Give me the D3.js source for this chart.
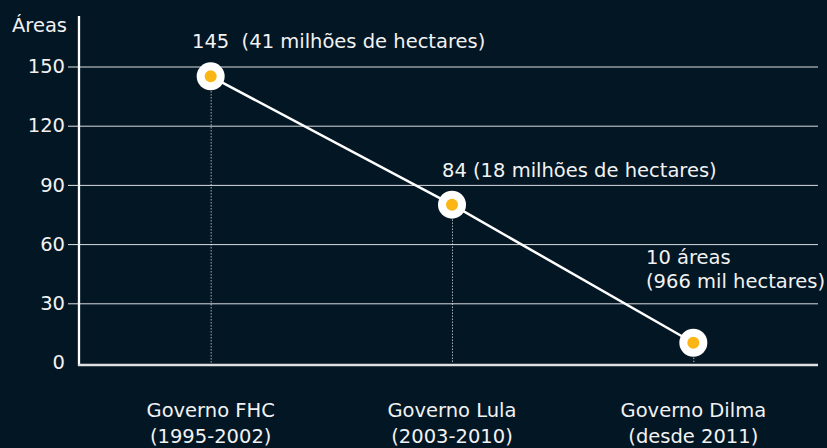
<!DOCTYPE html>
<html>
<head>
<meta charset="utf-8">
<style>
  body { margin: 0; background: #031624; }
  svg text { font-family: "DejaVu Sans", sans-serif; fill: #f2f2f2; white-space: pre; }
  .y-axis .domain { display: none; }
  .y-axis .tick line { stroke: #e6e6e6; stroke-width: 1px; }
  .y-axis .tick text { font-size: 19.5px; font-family: "DejaVu Sans", sans-serif; }
  .grid { stroke: #d9dcdf; stroke-width: 1px; }
  .note { font-size: 19.5px; }
  .cat { font-size: 19.5px; }
</style>
</head>
<body>
<script src="https://cdn.jsdelivr.net/npm/d3@7/dist/d3.min.js"></script>
<script>
// data
var governos = ["Governo FHC", "Governo Lula", "Governo Dilma"];
var periodos = ["(1995-2002)", "(2003-2010)", "(desde 2011)"];
var areas = [145, 80, 10];
var notas = [
  ["145  (41 milhões de hectares)"],
  ["84 (18 milhões de hectares)"],
  ["10 áreas", "(966 mil hectares)"]
];
var yTicks = [0, 30, 60, 90, 120, 150];

var W = 827, H = 448;
var axisX = 79, right = 818;

var svg = d3.select("body").append("svg")
    .attr("width", W)
    .attr("height", H);

svg.append("rect").attr("width", W).attr("height", H).attr("fill", "#031624");

var x = d3.scalePoint().domain(governos).range([90, 814]).padding(0.5);
var y = d3.scaleLinear().domain([0, 150]).range([362.5, 66.5]);

// horizontal grid
svg.selectAll("line.grid")
  .data(yTicks.filter(function (d) { return d > 0; }))
  .enter().append("line")
    .classed("grid", true)
    .attr("x1", axisX).attr("x2", right)
    .attr("y1", function (d) { return y(d) + 0.5; })
    .attr("y2", function (d) { return y(d) + 0.5; });

// y axis
var ya = svg.append("g")
    .classed("y-axis", true)
    .attr("transform", "translate(" + axisX + ",0)")
    .call(d3.axisLeft(y).tickValues(yTicks).tickSize(11).tickPadding(3));
ya.selectAll(".tick").filter(function (d) { return d === 0; }).select("line").remove();

svg.append("line")
    .attr("x1", axisX).attr("x2", axisX)
    .attr("y1", 16).attr("y2", y(0) + 3.5)
    .style("stroke", "#ffffff").style("stroke-width", "2.3px");

svg.append("line")
    .attr("x1", axisX - 1).attr("x2", right)
    .attr("y1", y(0) + 2.5).attr("y2", y(0) + 2.5)
    .style("stroke", "#e0e0e0").style("stroke-width", "2.3px");

svg.append("text")
    .attr("x", 67).attr("y", 32)
    .style("text-anchor", "end")
    .style("font-size", "19.5px")
    .text("Áreas");

// dotted drop lines
svg.selectAll("line.drop")
  .data(areas)
  .enter().append("line")
    .classed("drop", true)
    .attr("x1", function (d, i) { return x(governos[i]) + 0.5; })
    .attr("x2", function (d, i) { return x(governos[i]) + 0.5; })
    .attr("y1", function (d) { return y(d); })
    .attr("y2", y(0) + 1)
    .style("stroke", "#ffffff")
    .style("stroke-width", "1px")
    .style("stroke-dasharray", "1,2");

// line
var line = d3.line()
    .x(function (d, i) { return x(governos[i]); })
    .y(function (d) { return y(d); });

svg.append("path")
    .attr("d", line(areas))
    .style("fill", "none")
    .style("stroke", "#ffffff")
    .style("stroke-width", "2.5px");

// points
svg.selectAll("circle.outer")
  .data(areas)
  .enter().append("circle")
    .attr("cx", function (d, i) { return x(governos[i]); })
    .attr("cy", function (d) { return y(d); })
    .attr("r", 14)
    .style("fill", "#ffffff");

svg.selectAll("circle.inner")
  .data(areas)
  .enter().append("circle")
    .attr("cx", function (d, i) { return x(governos[i]); })
    .attr("cy", function (d) { return y(d); })
    .attr("r", 6)
    .style("fill", "#fbb514");

// value notes
var notePos = [[192, 48], [442, 177], [646, 264]];
notas.forEach(function (lines, i) {
  var t = svg.append("text")
      .classed("note", true)
      .attr("x", notePos[i][0])
      .attr("y", notePos[i][1]);
  lines.forEach(function (s, j) {
    t.append("tspan")
        .attr("x", notePos[i][0])
        .attr("dy", j === 0 ? 0 : 24)
        .text(s);
  });
});

// category labels
governos.forEach(function (g, i) {
  svg.append("text").classed("cat", true)
      .attr("x", x(g)).attr("y", 417)
      .style("text-anchor", "middle")
      .text(g);
  svg.append("text").classed("cat", true)
      .attr("x", x(g)).attr("y", 443)
      .style("text-anchor", "middle")
      .text(periodos[i]);
});
</script>
</body>
</html>
